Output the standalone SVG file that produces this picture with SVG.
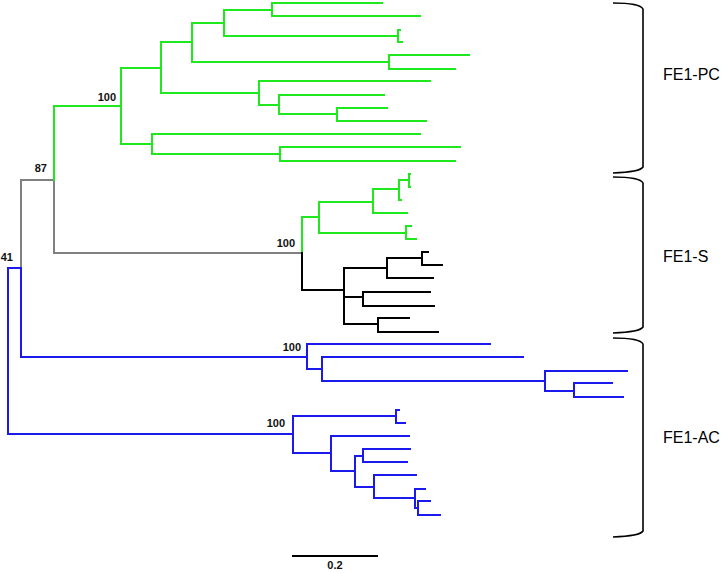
<svg xmlns="http://www.w3.org/2000/svg" width="722" height="573" viewBox="0 0 722 573">
<style>
.br{fill:none;stroke-width:2;stroke-linecap:square;stroke-linejoin:miter}
.g{stroke:#1ee81e}
.k{stroke:#000}
.gr{stroke:#808080}
.b{stroke:#1a1aee}
.lbl{font-family:"Liberation Sans",Arial,sans-serif;font-weight:bold;font-size:11px;fill:#111;text-anchor:end}
.grp{font-family:"Liberation Sans",Arial,sans-serif;font-size:16px;fill:#000}
.brk{fill:none;stroke:#000;stroke-width:1.6}
</style>
<rect width="722" height="573" fill="#fff"/>
<g id="connectors">
<path class="br gr" d="M21,268 V180 H54 V253 H302"/>
<path class="br g" d="M54,180 V106 H121 M121,68 V144 M121,68 H161 M161,42 V93 M161,42 H192 M192,23 V62 M192,23 H224 M224,10 V36 M224,10 H272 M272,3 V16 M272,3 H382 M272,16 H420 M224,36 H398 M398,30 V42 M398,30 H400 M398,42 H402 M192,62 H389 M389,55 V69 M389,55 H469 M389,69 H455 M161,93 H259 M259,81 V105 M259,81 H430 M259,105 H279 M279,95 V114 M279,95 H384 M279,114 H337 M337,108 V121 M337,108 H387 M337,121 H426 M121,144 H152 M152,134 V154 M152,134 H420 M152,154 H280 M280,147 V161 M280,147 H460 M280,161 H455"/>
<path class="br g" d="M302,253 V217 H319 M319,202 V233 M319,202 H373 M373,189 V213 M373,189 H399 M399,180 V200 M399,180 H409 M409,174 V187 M409,174 H410 M409,187 H410 M399,200 H401 M373,213 H407 M319,233 H406 M406,226 V239 M406,226 H411 M406,239 H416"/>
<path class="br k" d="M302,253 V290 H344 M344,268 V324 M344,268 H387 M387,258 V278 M387,258 H422 M422,252 V265 M422,252 H428 M422,265 H442 M387,278 H433 M344,297 H363 M363,292 V306 M363,292 H430 M363,306 H434 M344,324 H378 M378,318 V332 M378,318 H409 M378,332 H438"/>
<path class="br b" d="M21,268 H8 V434 H293 M21,268 V357 H307 M307,344 V369 M307,344 H490 M307,369 H322 M322,357 V381 M322,357 H523 M322,381 H545 M545,371 V391 M545,371 H627 M545,391 H574 M574,383 V397 M574,383 H612 M574,397 H623"/>
<path class="br b" d="M293,416 V453 M293,416 H396 M396,410 V423 M396,410 H399 M396,423 H405 M293,453 H331 M331,436 V471 M331,436 H409 M331,471 H355 M355,456 V487 M355,456 H363 M363,449 V462 M363,449 H410 M363,462 H407 M355,487 H374 M374,475 V498 M374,475 H416 M374,498 H415 M415,489 V508 M415,489 H425 M415,508 H418 M418,501 V515 M418,501 H430 M418,515 H440"/>
</g>
<g id="support-labels">
<text class="lbl" x="116" y="101">100</text>
<text class="lbl" x="47" y="172">87</text>
<text class="lbl" x="13" y="261">41</text>
<text class="lbl" x="295" y="247">100</text>
<text class="lbl" x="301" y="351">100</text>
<text class="lbl" x="285" y="427">100</text>
</g>
<g id="FE1-PC">
<path class="brk" d="M613,3 Q640,3 643,9 V167 Q640,172 613,173"/>
<text class="grp" x="663" y="80">FE1-PC</text>
</g>
<g id="FE1-S">
<path class="brk" d="M613,177 Q640,177 643,183 V327 Q640,332 613,333"/>
<text class="grp" x="663" y="262">FE1-S</text>
</g>
<g id="FE1-AC">
<path class="brk" d="M613,338 Q640,338 643,344 V531 Q640,536 613,537"/>
<text class="grp" x="663" y="443">FE1-AC</text>
</g>
<g id="scale-bar">
<path d="M292,556 H378" stroke="#000" stroke-width="2"/>
<text class="lbl" x="335" y="569" style="text-anchor:middle">0.2</text>
</g>
</svg>
